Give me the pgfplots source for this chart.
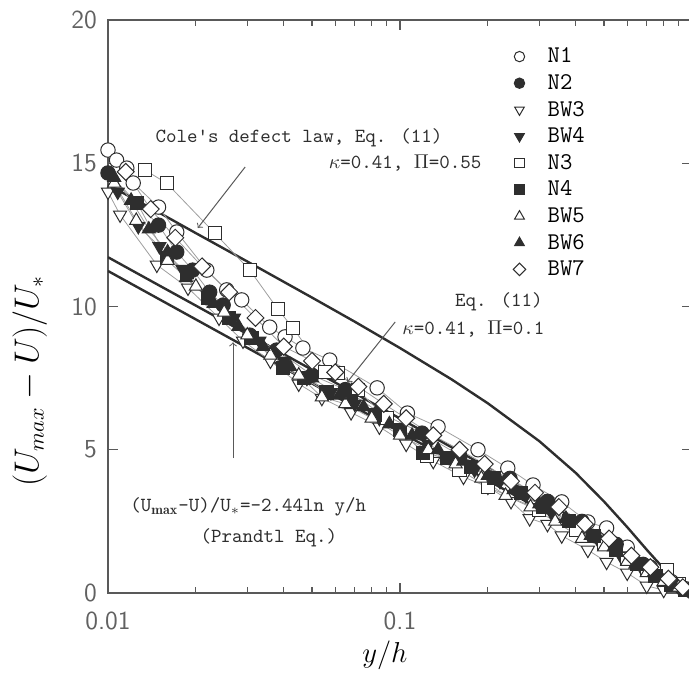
\documentclass[border=0pt]{standalone}
\usepackage{fontspec}
\usepackage{pgfplots}
\pgfplotsset{compat=1.18}
\definecolor{ink}{gray}{0.18}
\definecolor{axc}{gray}{0.35}
\definecolor{tlc}{gray}{0.38}
\definecolor{connc}{gray}{0.62}
\begin{document}
\begin{tikzpicture}
\begin{axis}[
  width=292pt, height=286.5pt, scale only axis,
  xmode=log, xmin=0.01, xmax=1, ymin=0, ymax=20,
  xtick={0.01,0.1}, xticklabels={0.01,0.1},
  minor xtick={0.02,0.03,0.04,0.05,0.06,0.07,0.08,0.09,0.2,0.3,0.4,0.5,0.6,0.7,0.8,0.9},
  ytick={0,5,10,15,20}, yticklabels={0,5,10,15,20},
  tick align=inside,
  major tick length=5pt, minor tick length=3pt,
  axis line style={axc, line width=0.8pt},
  tick style={axc, line width=0.6pt},
  tick label style={font=\sffamily\fontsize{13}{13}\selectfont, text=tlc},
  xticklabel style={yshift=-6pt}, yticklabel style={xshift=-2pt},
  xlabel={$y/h$}, ylabel={$(U_{max}-U)/U_*$},
  xlabel style={at={(axis description cs:0.474,-0.108)}, anchor=center, font=\fontsize{15}{15}\selectfont},
  ylabel style={at={(axis description cs:-0.134,0.37)}, anchor=center, font=\fontsize{16}{16}\selectfont},
  legend style={at={(axis description cs:0.683,0.967)}, anchor=north west, draw=none, fill=none, font=\ttfamily\fontsize{12}{14}\selectfont},
  legend cell align=left,
]
% theory curves
\addplot[color=ink, line width=1.2pt, forget plot] coordinates {
(0.01,14.25)(0.015,13.27)(0.02,12.56)(0.03,11.57)(0.05,10.31)(0.07,9.47)(0.1,8.55)(0.15,7.46)(0.2,6.62)(0.3,5.30)(0.4,4.19)(0.5,3.19)(0.6,2.30)(0.65,1.89)(0.7,1.51)(0.75,1.17)(0.8,0.86)(0.85,0.58)(0.9,0.34)(0.95,0.15)(1.0,0.0)};
\addplot[color=ink, line width=1.2pt, forget plot] coordinates {
(0.01,11.72)(0.015,10.73)(0.02,10.03)(0.03,9.04)(0.05,7.79)(0.07,6.97)(0.1,6.09)(0.15,5.09)(0.2,4.37)(0.3,3.32)(0.4,2.55)(0.5,1.94)(0.6,1.42)(0.65,1.18)(0.7,0.97)(0.75,0.77)(0.8,0.59)(0.85,0.42)(0.9,0.27)(0.95,0.13)(1.0,0.0)};
\addplot[color=ink, line width=1.2pt, forget plot] coordinates {
(0.01,11.24)(0.1,5.62)(1.0,0.0)};
% N1
\addplot[color=connc, line width=0.4pt, mark=*, mark size=3.6pt, mark options={draw=ink, fill=white, line width=0.5pt}, forget plot] coordinates {
(0.01,15.46)(0.0107,15.11)(0.0116,14.83)(0.0122,14.31)(0.0149,13.47)(0.0172,12.6)(0.0218,11.27)(0.0255,10.58)(0.0287,10.23)(0.0358,9.28)(0.0404,8.94)(0.0465,8.55)(0.0575,8.13)(0.0835,7.16)(0.106,6.28)(0.135,5.8)(0.185,5.0)(0.234,4.36)(0.2855,3.77)(0.358,3.18)(0.44,2.48)(0.51,2.27)(0.6,1.6)(0.72,0.9)(0.85,0.4)(0.95,0.15)};
% N2
\addplot[color=connc, line width=0.4pt, mark=*, mark size=3.6pt, mark options={draw=ink, fill=ink, line width=0.5pt}, forget plot] coordinates {
(0.01,14.66)(0.0149,12.84)(0.0172,11.9)(0.0195,11.27)(0.0223,10.5)(0.0248,10.05)(0.0306,9.0)(0.0378,8.48)(0.05,7.6)(0.065,7.1)(0.085,6.3)(0.119,5.58)(0.16,4.8)(0.238,4.0)(0.32,3.2)(0.42,2.5)(0.55,1.7)(0.68,1.0)(0.8,0.6)(0.92,0.2)(1.0,0.05)};
% BW3
\addplot[color=connc, line width=0.4pt, mark=triangle*, mark size=3.8pt, mark options={draw=ink, fill=white, line width=0.5pt, rotate=180}, forget plot] coordinates {
(0.01,14.0)(0.011,13.2)(0.0147,11.45)(0.0188,10.65)(0.024,9.6)(0.029,8.8)(0.036,8.1)(0.045,7.3)(0.054,6.8)(0.068,6.3)(0.085,5.8)(0.105,5.2)(0.13,4.6)(0.165,4.05)(0.2,3.7)(0.24,3.2)(0.278,2.6)(0.32,2.4)(0.358,2.0)(0.44,1.5)(0.51,1.08)(0.6,0.7)(0.7,0.25)(0.8,0.1)};
% BW4
\addplot[color=connc, line width=0.4pt, mark=triangle*, mark size=3.8pt, mark options={draw=ink, fill=ink, line width=0.5pt, rotate=180}, forget plot] coordinates {
(0.0108,14.0)(0.0127,12.8)(0.015,12.1)(0.018,11.3)(0.022,10.4)(0.027,9.6)(0.033,8.8)(0.04,8.1)(0.048,7.5)(0.058,7.0)(0.07,6.6)(0.085,6.1)(0.1,5.7)(0.125,5.2)(0.15,4.7)(0.18,4.3)(0.22,3.9)(0.27,3.4)(0.33,2.8)(0.4,2.3)(0.48,1.8)(0.57,1.3)(0.67,0.9)(0.78,0.5)(0.9,0.2)(1.0,0.05)};
% N3
\addplot[color=connc, line width=0.4pt, mark=square*, mark size=3.3pt, mark options={draw=ink, fill=white, line width=0.5pt}, forget plot] coordinates {
(0.0134,14.76)(0.0159,14.3)(0.0232,12.56)(0.0306,11.27)(0.0382,9.9)(0.043,9.25)(0.0553,7.7)(0.0613,7.68)(0.0718,7.08)(0.09,6.1)(0.124,4.8)(0.16,4.3)(0.2,3.7)(0.3,2.9)(0.4,2.2)(0.5,1.7)(0.6,1.2)(0.7,0.8)(0.82,0.8)(0.9,0.3)(0.97,0.1)};
% N4
\addplot[color=connc, line width=0.4pt, mark=square*, mark size=3.3pt, mark options={draw=ink, fill=ink, line width=0.5pt}, forget plot] coordinates {
(0.0126,13.6)(0.0159,11.7)(0.0186,11.2)(0.022,10.3)(0.026,9.6)(0.031,8.9)(0.0397,7.85)(0.047,7.5)(0.056,7.0)(0.068,6.7)(0.082,6.2)(0.1,5.7)(0.12,4.9)(0.145,4.7)(0.175,4.4)(0.21,4.0)(0.26,3.5)(0.31,3.0)(0.38,2.5)(0.46,2.0)(0.55,1.5)(0.65,1.0)(0.75,0.6)(0.85,0.3)(0.95,0.1)};
% BW5
\addplot[color=connc, line width=0.4pt, mark=triangle*, mark size=3.8pt, mark options={draw=ink, fill=white, line width=0.5pt}, forget plot] coordinates {
(0.0105,14.3)(0.0125,13.0)(0.016,11.6)(0.02,10.7)(0.025,9.8)(0.03,9.0)(0.036,8.3)(0.045,7.6)(0.054,6.84)(0.065,6.6)(0.08,6.1)(0.1,5.5)(0.125,5.0)(0.155,4.5)(0.19,4.0)(0.23,3.4)(0.28,3.0)(0.34,2.5)(0.42,1.9)(0.5,1.6)(0.6,1.1)(0.7,0.7)(0.8,0.4)(0.9,0.2)};
% BW6
\addplot[color=connc, line width=0.4pt, mark=triangle*, mark size=3.8pt, mark options={draw=ink, fill=ink, line width=0.5pt}, forget plot] coordinates {
(0.0105,14.5)(0.012,13.7)(0.0138,12.7)(0.016,11.9)(0.0185,11.0)(0.023,10.1)(0.028,9.3)(0.034,8.6)(0.042,7.9)(0.05,7.5)(0.062,6.9)(0.075,6.5)(0.092,5.9)(0.11,5.5)(0.135,5.0)(0.165,4.6)(0.2,4.1)(0.245,3.6)(0.3,3.1)(0.37,2.6)(0.45,2.0)(0.54,1.6)(0.64,1.0)(0.74,0.7)(0.86,0.3)(0.97,0.1)};
% BW7
\addplot[color=connc, line width=0.4pt, mark=square*, mark size=3.0pt, mark options={draw=ink, fill=white, line width=0.5pt, rotate=45}, forget plot] coordinates {
(0.0115,14.7)(0.014,13.4)(0.017,12.4)(0.021,11.4)(0.026,10.5)(0.032,9.6)(0.04,8.6)(0.05,8.1)(0.06,7.7)(0.072,7.2)(0.088,6.6)(0.105,6.1)(0.13,5.5)(0.16,5.0)(0.195,4.5)(0.24,3.9)(0.29,3.5)(0.35,3.0)(0.43,2.4)(0.52,1.9)(0.62,1.3)(0.72,0.9)(0.83,0.5)(0.93,0.2)};
% legend
\addlegendimage{only marks, mark=*, mark size=2.6pt, mark options={draw=ink, fill=white, line width=0.5pt}}
\addlegendentry{\hspace{9pt}\rule[-1pt]{0pt}{8.8pt}N1}
\addlegendimage{only marks, mark=*, mark size=2.6pt, mark options={draw=ink, fill=ink, line width=0.5pt}}
\addlegendentry{\hspace{9pt}\rule[-1pt]{0pt}{8.8pt}N2}
\addlegendimage{only marks, mark=triangle*, mark size=2.8pt, mark options={draw=ink, fill=white, line width=0.5pt, rotate=180}}
\addlegendentry{\hspace{9pt}\rule[-1pt]{0pt}{8.8pt}BW3}
\addlegendimage{only marks, mark=triangle*, mark size=2.8pt, mark options={draw=ink, fill=ink, line width=0.5pt, rotate=180}}
\addlegendentry{\hspace{9pt}\rule[-1pt]{0pt}{8.8pt}BW4}
\addlegendimage{only marks, mark=square*, mark size=2.4pt, mark options={draw=ink, fill=white, line width=0.5pt}}
\addlegendentry{\hspace{9pt}\rule[-1pt]{0pt}{8.8pt}N3}
\addlegendimage{only marks, mark=square*, mark size=2.4pt, mark options={draw=ink, fill=ink, line width=0.5pt}}
\addlegendentry{\hspace{9pt}\rule[-1pt]{0pt}{8.8pt}N4}
\addlegendimage{only marks, mark=triangle*, mark size=2.8pt, mark options={draw=ink, fill=white, line width=0.5pt}}
\addlegendentry{\hspace{9pt}\rule[-1pt]{0pt}{8.8pt}BW5}
\addlegendimage{only marks, mark=triangle*, mark size=2.8pt, mark options={draw=ink, fill=ink, line width=0.5pt}}
\addlegendentry{\hspace{9pt}\rule[-1pt]{0pt}{8.8pt}BW6}
\addlegendimage{only marks, mark=square*, mark size=2.2pt, mark options={draw=ink, fill=white, line width=0.5pt, rotate=45}}
\addlegendentry{\hspace{9pt}\rule[-1pt]{0pt}{8.8pt}BW7}
% annotations
\node[anchor=west, inner sep=0pt, text=ink, font=\ttfamily\fontsize{10}{12}\selectfont] at (axis cs:0.0145,15.9) {Cole's defect law, Eq. (11)};
\node[anchor=east, inner sep=0pt, text=ink, font=\ttfamily\fontsize{10}{12}\selectfont] at (axis cs:0.1906,15.0) {$\kappa$=0.41, $\Pi$=0.55};
\node[anchor=west, inner sep=0pt, text=ink, font=\ttfamily\fontsize{10}{12}\selectfont] at (axis cs:0.154,10.15) {Eq. (11)};
\node[anchor=west, inner sep=0pt, text=ink, font=\ttfamily\fontsize{10}{12}\selectfont] at (axis cs:0.1016,9.2) {$\kappa$=0.41, $\Pi$=0.1};
\node[anchor=west, inner sep=0pt, text=ink, font=\ttfamily\fontsize{10}{12}\selectfont] at (axis cs:0.0119,3.0) {(U$_{\mathbf{max}}${}-U)/U$_*${}=-2.44ln y/h};
\node[anchor=west, inner sep=0pt, text=ink, font=\ttfamily\fontsize{10}{12}\selectfont] at (axis cs:0.0207,1.92) {(Prandtl Eq.)};
\draw[axc, line width=0.5pt, ->] (axis cs:0.0295,14.87) -- (axis cs:0.0203,12.74);
\draw[axc, line width=0.5pt, ->] (axis cs:0.0963,9.46) -- (axis cs:0.066,7.36);
\draw[axc, line width=0.5pt, ->] (axis cs:0.0268,4.71) -- (axis cs:0.0268,8.75);
\end{axis}
\pgfresetboundingbox
\path (current axis.south west) ++(-54pt,-40pt) rectangle ++(344.5pt,336.5pt);
\end{tikzpicture}
\end{document}
